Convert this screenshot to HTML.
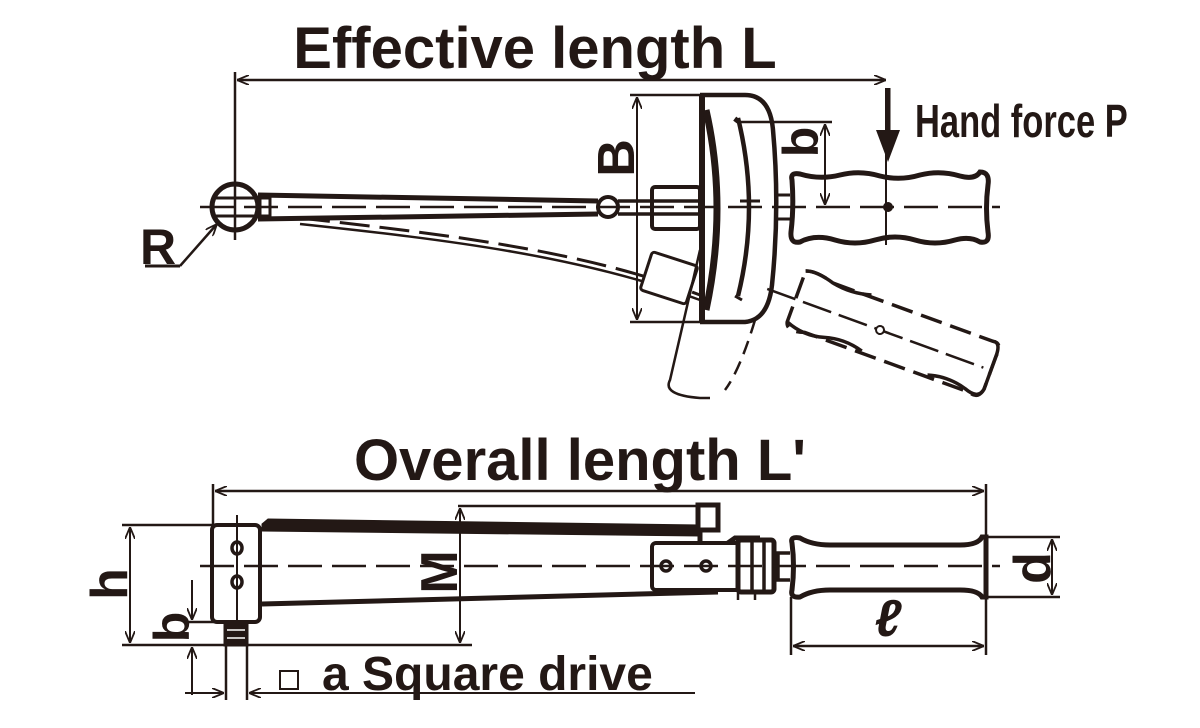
<!DOCTYPE html>
<html><head><meta charset="utf-8"><style>
html,body{margin:0;padding:0;background:#fff;width:1200px;height:728px;overflow:hidden}
svg{display:block}
text{font-family:"Liberation Sans",sans-serif;font-weight:bold;fill:#231815}
</style></head><body>
<svg width="1200" height="728" viewBox="0 0 1200 728" xmlns="http://www.w3.org/2000/svg">
<defs>
<marker id="a" viewBox="0 0 12 10" refX="12" refY="5" markerWidth="12" markerHeight="10" orient="auto-start-reverse" markerUnits="userSpaceOnUse">
<path d="M0,0 L12,5 L0,10" fill="none" stroke="#231815" stroke-width="1.8"/>
</marker>
</defs>
<g stroke="#231815" fill="none" stroke-linecap="butt">
<line x1="237" y1="80" x2="886" y2="80" stroke-width="2.5" marker-start="url(#a)" marker-end="url(#a)"/>
<line x1="235" y1="72" x2="235" y2="240" stroke-width="2.5"/>
<circle cx="235" cy="207" r="23" stroke-width="5"/>
<line x1="213" y1="198" x2="270" y2="198" stroke-width="3"/>
<line x1="213" y1="216" x2="270" y2="216" stroke-width="3"/>
<line x1="260" y1="195" x2="260" y2="219" stroke-width="3"/>
<line x1="270" y1="195" x2="270" y2="219" stroke-width="3"/>
<path d="M258,195 L598,201" stroke-width="5"/>
<path d="M258,219 L598,214" stroke-width="5"/>
<path d="M300,218 C450,235 580,250 700,295" stroke-width="3" stroke-dasharray="30,10"/>
<path d="M300,224 C450,240 580,256 700,300" stroke-width="2.5"/>
<rect x="645" y="258" width="48" height="40" rx="3" stroke-width="3" transform="rotate(18 669 278)" fill="#fff"/>
<path d="M700,250 L670,380 Q662,395 700,398 L710,398" stroke-width="2.5"/>
<path d="M755,320 Q740,370 725,390" stroke-width="2.5" stroke-dasharray="14,8"/>
<circle cx="608" cy="207" r="10" stroke-width="4" fill="#fff"/>
<rect x="652" y="187" width="48" height="42" rx="3" stroke-width="4" fill="#fff"/>
<line x1="618" y1="201" x2="740" y2="201" stroke-width="3.5"/>
<line x1="618" y1="214" x2="740" y2="214" stroke-width="3.5"/>
<path d="M730,201 L748,204 L748,211 L730,214 Z" fill="#231815" stroke-width="2"/>
<path d="M700,95 L745,95 Q770,95 773,130 Q780,207 772,285 Q768,320 745,322 L700,322" stroke-width="4.5" fill="#fff"/>
<line x1="702" y1="95" x2="702" y2="322" stroke-width="6"/>
<path d="M706,110 Q728,207 706,310" stroke-width="7"/>
<path d="M735,122 L738,118 M738,118 Q760,207 738,296" stroke-width="4.5"/>
<line x1="735" y1="296" x2="742" y2="300" stroke-width="3"/>
<line x1="740" y1="201" x2="760" y2="201" stroke-width="3"/>
<line x1="775" y1="195" x2="790" y2="195" stroke-width="3"/>
<line x1="775" y1="219" x2="790" y2="219" stroke-width="3"/>
<path d="M792,180 Q790,172 800,174 Q820,180 840,175 Q860,170 880,176 Q900,181 920,175 Q940,170 960,176 Q975,180 980,172 Q990,172 988,185 Q985,208 988,232 Q990,244 980,242 Q970,236 955,240 Q935,246 915,240 Q895,234 875,240 Q855,246 835,240 Q815,234 800,242 Q790,244 791,232 Q794,207 792,180 Z" stroke-width="5" fill="#fff"/>
<line x1="886" y1="88" x2="886" y2="245" stroke-width="2"/>
<circle cx="888" cy="207" r="5" fill="#231815" stroke="none"/>
<line x1="200" y1="207" x2="1000" y2="207" stroke-width="2.5" stroke-dasharray="34,10"/>
<line x1="888" y1="88" x2="888" y2="132" stroke-width="5"/>
<path d="M876,130 L900,130 L888,162 Z" fill="#231815" stroke="none"/>
<g transform="rotate(20 880 330)" stroke-width="3.5">
<path d="M790,300 Q800,296 820,302 L990,302 Q1000,300 998,315 L998,350 Q996,362 985,358 L810,358 Q792,364 790,354 Z" stroke-dasharray="22,9" fill="#fff"/>
<path d="M790,300 Q800,296 820,302 Q840,306 860,300 M790,354 Q810,362 830,356 Q850,350 870,356 M990,302 Q998,300 998,315 L998,350 Q996,362 980,356 Q960,350 940,356"/>
<line x1="760" y1="330" x2="990" y2="330" stroke-width="2.5" stroke-dasharray="30,8"/>
<circle cx="880" cy="330" r="4" fill="#fff" stroke-width="2"/>
</g>
<line x1="630" y1="95" x2="700" y2="95" stroke-width="2.5"/>
<line x1="630" y1="322" x2="700" y2="322" stroke-width="2.5"/>
<line x1="637" y1="97" x2="637" y2="320" stroke-width="2" marker-start="url(#a)" marker-end="url(#a)"/>
<line x1="738" y1="122" x2="832" y2="122" stroke-width="2.5"/>
<line x1="825" y1="124" x2="825" y2="205" stroke-width="2" marker-start="url(#a)" marker-end="url(#a)"/>
<line x1="145" y1="266" x2="180" y2="266" stroke-width="3"/>
<line x1="180" y1="266" x2="217" y2="224" stroke-width="2.5" marker-end="url(#a)"/>

<line x1="215" y1="491" x2="984" y2="491" stroke-width="2.5" marker-start="url(#a)" marker-end="url(#a)"/>
<line x1="213" y1="484" x2="213" y2="525" stroke-width="2.5"/>
<line x1="986" y1="484" x2="986" y2="600" stroke-width="2.5"/>
<line x1="458" y1="506" x2="715" y2="506" stroke-width="2.5"/>
<line x1="460" y1="508" x2="460" y2="643" stroke-width="2" marker-start="url(#a)" marker-end="url(#a)"/>
<line x1="122" y1="645" x2="472" y2="645" stroke-width="2.5"/>
<line x1="122" y1="525" x2="212" y2="525" stroke-width="2.5"/>
<line x1="130" y1="527" x2="130" y2="643" stroke-width="2" marker-start="url(#a)" marker-end="url(#a)"/>
<line x1="185" y1="622" x2="225" y2="622" stroke-width="2.5"/>
<line x1="192" y1="580" x2="192" y2="620" stroke-width="2" marker-end="url(#a)"/>
<line x1="192" y1="695" x2="192" y2="647" stroke-width="2" marker-end="url(#a)"/>
<path d="M262,524 L268,519 L700,525 L700,536 L262,531 Z" fill="#231815" stroke-width="1"/>
<path d="M262,604 L718,592" stroke-width="5"/>
<rect x="212" y="525" width="48" height="97" rx="5" stroke-width="4" fill="#fff"/>
<line x1="237" y1="515" x2="237" y2="620" stroke-width="2"/>
<ellipse cx="237" cy="548" rx="5" ry="6" stroke-width="3.5"/>
<ellipse cx="237" cy="582" rx="5" ry="6" stroke-width="3.5"/>
<rect x="224" y="622" width="24" height="24" fill="#231815" stroke-width="1"/>
<line x1="227" y1="630" x2="245" y2="630" stroke="#fff" stroke-width="1.5"/>
<line x1="227" y1="638" x2="245" y2="638" stroke="#fff" stroke-width="1.5"/>
<line x1="226" y1="646" x2="226" y2="700" stroke-width="2.5"/>
<line x1="247" y1="646" x2="247" y2="700" stroke-width="2.5"/>
<line x1="185" y1="693" x2="224" y2="693" stroke-width="2" marker-end="url(#a)"/>
<line x1="695" y1="693" x2="249" y2="693" stroke-width="2" marker-end="url(#a)"/>
<rect x="698" y="505" width="20" height="25" stroke-width="5" fill="#fff"/>
<path d="M700,530 L700,545 L725,545 L735,538 L760,538" stroke-width="5"/>
<rect x="652" y="543" width="100" height="47" rx="4" stroke-width="4" fill="#fff"/>
<circle cx="666" cy="566" r="5" stroke-width="3.5"/>
<circle cx="706" cy="566" r="5" stroke-width="3.5"/>
<rect x="738" y="540" width="36" height="52" rx="3" stroke-width="5" fill="#fff"/>
<line x1="752" y1="540" x2="752" y2="592" stroke-width="3.5"/>
<line x1="764" y1="540" x2="764" y2="592" stroke-width="3.5"/>
<path d="M738,592 L738,600 M755,592 L755,600" stroke-width="2.5"/>
<line x1="774" y1="553" x2="790" y2="553" stroke-width="3.5"/>
<line x1="774" y1="580" x2="790" y2="580" stroke-width="3.5"/>
<line x1="778" y1="553" x2="778" y2="580" stroke-width="3.5"/>
<path d="M792,543 Q790,536 800,538 Q812,545 830,545 L960,545 Q978,545 982,537 L986,537 L986,597 L982,597 Q978,590 960,590 L830,590 Q812,590 800,597 Q790,598 792,590 Q795,566 792,543 Z" stroke-width="5" fill="#fff"/>
<line x1="200" y1="566" x2="1000" y2="566" stroke-width="2.5" stroke-dasharray="34,10"/>
<line x1="986" y1="537" x2="1060" y2="537" stroke-width="2.5"/>
<line x1="986" y1="597" x2="1060" y2="597" stroke-width="2.5"/>
<line x1="1052" y1="539" x2="1052" y2="595" stroke-width="2" marker-start="url(#a)" marker-end="url(#a)"/>
<line x1="791" y1="597" x2="791" y2="655" stroke-width="2.5"/>
<line x1="986" y1="600" x2="986" y2="655" stroke-width="2.5"/>
<line x1="793" y1="646" x2="984" y2="646" stroke-width="2.5" marker-start="url(#a)" marker-end="url(#a)"/>
<rect x="280" y="671" width="18" height="18" fill="none" stroke="#231815" stroke-width="2"/>
</g>
<text x="535" y="68" font-size="58" text-anchor="middle">Effective length L</text>
<text x="0" y="0" font-size="46" transform="translate(915,137) scale(0.75,1)">Hand force P</text>
<text font-size="52" transform="translate(634,158) rotate(-90)" text-anchor="middle">B</text>
<text font-size="50" transform="translate(818,142) rotate(-90)" text-anchor="middle">b</text>
<text x="140" y="264" font-size="50">R</text>
<text x="580" y="480" font-size="58" text-anchor="middle">Overall length L'</text>
<text font-size="52" transform="translate(457,572) rotate(-90)" text-anchor="middle">M</text>
<text font-size="52" transform="translate(127,584) rotate(-90)" text-anchor="middle">h</text>
<text font-size="50" transform="translate(189,627) rotate(-90)" text-anchor="middle">b</text>
<text font-size="52" transform="translate(1050,568) rotate(-90)" text-anchor="middle">d</text>
<text x="888" y="636" font-size="52" text-anchor="middle" font-style="italic">ℓ</text>
<text x="322" y="690" font-size="48">a Square drive</text>
</svg>
</body></html>
